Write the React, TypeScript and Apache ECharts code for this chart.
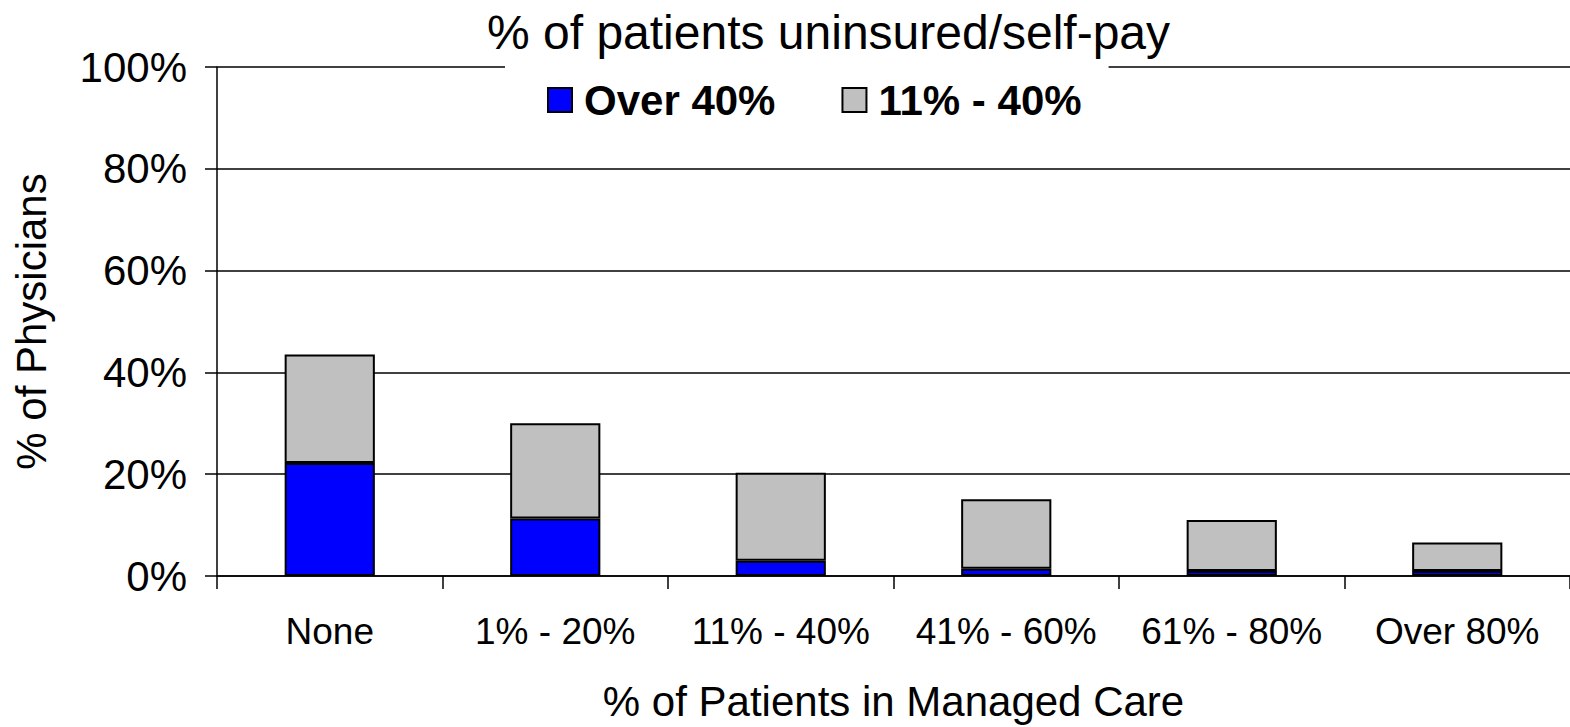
import React, { useEffect, useRef } from "react";
import * as echarts from "echarts";

const categories = ["None", "1% - 20%", "11% - 40%", "41% - 60%", "61% - 80%", "Over 80%"];
const over40 = [22.2, 11.3, 3.0, 1.4, 1.0, 1.0];
const from11to40 = [21.3, 18.7, 17.3, 13.7, 10.0, 5.6];
const yTicks = [0, 20, 40, 60, 80, 100];

const FONT = "'Liberation Sans', Arial, sans-serif";

export default function App() {
  const ref = useRef<HTMLDivElement>(null);
  useEffect(() => {
    if (!ref.current) return;
    const chart = echarts.init(ref.current, undefined, { renderer: "svg" });
    chart.setOption({
      animation: false,
      backgroundColor: "#ffffff",
      textStyle: { fontFamily: FONT, color: "#000" },
      title: {
        text: "% of patients uninsured/self-pay",
        left: 487,
        top: 8,
        padding: 0,
        textStyle: { fontFamily: FONT, fontSize: 48, fontWeight: "normal", color: "#000" },
      },
      legend: {
        left: 505,
        top: 60,
        padding: [19, 27, 19, 42],
        backgroundColor: "#ffffff",
        itemWidth: 24,
        itemHeight: 24,
        itemGap: 66,
        icon: "rect",
        textStyle: { fontFamily: FONT, fontSize: 42, fontWeight: "bold", color: "#000", padding: [0, 0, 0, 7] },
        data: ["Over 40%", "11% - 40%"],
      },
      grid: { left: 217, right: 0, top: 67, bottom: 148, containLabel: false },
      xAxis: {
        type: "category",
        data: categories,
        name: "% of Patients in Managed Care",
        nameLocation: "middle",
        nameGap: 104,
        nameTextStyle: { fontFamily: FONT, fontSize: 42, color: "#000" },
        axisLine: { lineStyle: { color: "#000", width: 1.5 } },
        axisTick: { show: true, length: 13, interval: 0, lineStyle: { color: "#000", width: 1.5 } },
        axisLabel: { fontFamily: FONT, fontSize: 37, color: "#000", margin: 37, interval: 0 },
      },
      yAxis: {
        type: "value",
        min: yTicks[0],
        max: yTicks[yTicks.length - 1],
        interval: 20,
        name: "% of Physicians",
        nameLocation: "middle",
        nameGap: 165,
        nameRotate: 90,
        nameTextStyle: { fontFamily: FONT, fontSize: 42, color: "#000" },
        axisLine: { show: true, lineStyle: { color: "#000", width: 1.5 } },
        axisTick: { show: true, length: 12, inside: false, lineStyle: { color: "#000", width: 1.5 } },
        axisLabel: { fontFamily: FONT, fontSize: 42, color: "#000", margin: 30, formatter: "{value}%" },
        splitLine: { show: true, lineStyle: { color: "#000", width: 1.5 } },
      },
      series: [
        {
          name: "Over 40%",
          type: "bar",
          stack: "total",
          barWidth: "40%",
          data: over40,
          itemStyle: { color: "#0000ff", borderColor: "#000", borderWidth: 2 },
        },
        {
          name: "11% - 40%",
          type: "bar",
          stack: "total",
          barWidth: "40%",
          data: from11to40,
          itemStyle: { color: "#c0c0c0", borderColor: "#000", borderWidth: 2 },
        },
      ],
    });
    return () => chart.dispose();
  }, []);
  return (
    <div
      ref={ref}
      style={{ position: "fixed", left: 0, top: 0, width: 1570, height: 727, background: "#fff" }}
    />
  );
}
